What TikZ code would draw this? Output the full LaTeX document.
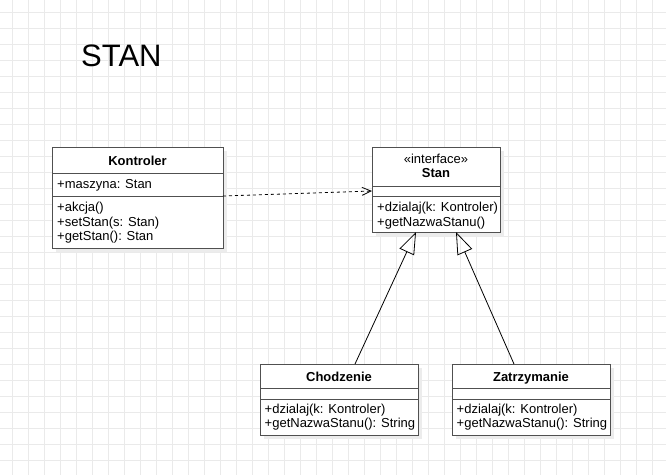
\documentclass[tikz,border=0pt]{standalone}
\usepackage{fontspec}
\setmainfont{Liberation Sans}
\usetikzlibrary{arrows.meta,shadows,calc}
\definecolor{gridc}{RGB}{234,234,234}
\definecolor{boxc}{RGB}{80,80,80}
\definecolor{shadc}{RGB}{236,236,236}
\begin{document}
\begin{tikzpicture}[x=1pt,y=-1pt,
  cls/.style={draw=boxc, line width=1pt, fill=white, inner sep=0pt, outer sep=0pt,
    drop shadow={shadow xshift=3.5pt, shadow yshift=-3.5pt, fill=shadc, opacity=1}},
  sepline/.style={draw=boxc, line width=1pt},
  mem/.style={anchor=base west, inner sep=0pt, font=\fontsize{13}{15}\selectfont},
  ttl/.style={anchor=base, inner sep=0pt, font=\fontsize{13}{15}\selectfont\bfseries},
  stereo/.style={anchor=base, inner sep=0pt, font=\fontsize{13}{15}\selectfont},
  gridline/.style={draw=gridc, line width=0.8pt},
  dep/.style={draw=black, line width=0.8pt, dash pattern=on 3pt off 3pt, -{Straight Barb[length=9pt,width=8pt]}},
  inh/.style={draw=black, line width=0.8pt, -{Triangle[open, length=22pt, width=16pt]}}
]
\useasboundingbox (0,0) rectangle (666,475);
\fill[white] (0,0) rectangle (666,475);
\foreach \gx in {12,28,...,660} {\draw[gridline] (\gx,0) -- (\gx,475);}
\foreach \gy in {12,28,...,475} {\draw[gridline] (0,\gy) -- (666,\gy);}

\node[anchor=base west, inner sep=0pt, font=\fontsize{31}{35}\selectfont] (title) at (81,66) {STAN};

% Kontroler
\node[cls, minimum width=171pt, minimum height=101pt] (kon) at (137.5,197.5) {};
\draw[sepline] ($(kon.north west)+(0,26)$) -- ($(kon.north east)+(0,26)$);
\draw[sepline] ($(kon.north west)+(0,49)$) -- ($(kon.north east)+(0,49)$);
\node[ttl] (konT) at (137.5,165) {Kontroler};
\node[mem] (konA) at (57,188) {+maszyna: Stan};
\node[mem] (konM1) at (57,211.5) {+akcja()};
\node[mem] (konM2) at (57,226) {+setStan(s: Stan)};
\node[mem] (konM3) at (57,240.5) {+getStan(): Stan};

% Stan
\node[cls, minimum width=128pt, minimum height=85pt] (stan) at (436,189.5) {};
\draw[sepline] ($(stan.north west)+(0,39)$) -- ($(stan.north east)+(0,39)$);
\draw[sepline] ($(stan.north west)+(0,49)$) -- ($(stan.north east)+(0,49)$);
\node[stereo] (stanS) at (436,163) {«interface»};
\node[ttl] (stanT) at (436,177.7) {Stan};
\node[mem] (stanM1) at (377,211.5) {+dzialaj(k: Kontroler)};
\node[mem] (stanM2) at (377,226) {+getNazwaStanu()};

% Chodzenie
\node[cls, minimum width=158pt, minimum height=71pt] (cho) at (339,399.5) {};
\draw[sepline] ($(cho.north west)+(0,24)$) -- ($(cho.north east)+(0,24)$);
\draw[sepline] ($(cho.north west)+(0,35)$) -- ($(cho.north east)+(0,35)$);
\node[ttl] (choT) at (339,381.7) {Chodzenie};
\node[mem] (choM1) at (264.5,413) {+dzialaj(k: Kontroler)};
\node[mem] (choM2) at (264.5,427.5) {+getNazwaStanu(): String};

% Zatrzymanie
\node[cls, minimum width=158pt, minimum height=71pt] (zat) at (531,399.5) {};
\draw[sepline] ($(zat.north west)+(0,24)$) -- ($(zat.north east)+(0,24)$);
\draw[sepline] ($(zat.north west)+(0,35)$) -- ($(zat.north east)+(0,35)$);
\node[ttl] (zatT) at (531,381.7) {Zatrzymanie};
\node[mem] (zatM1) at (456.5,413) {+dzialaj(k: Kontroler)};
\node[mem] (zatM2) at (456.5,427.5) {+getNazwaStanu(): String};

% connectors
\draw[dep] ([yshift=1.5pt]kon.east) -- ([yshift=-1.5pt]stan.west);
\draw[inh] ([xshift=16pt]cho.north) -- ([xshift=-20pt]stan.south);
\draw[inh] ([xshift=-17pt]zat.north) -- ([xshift=20pt]stan.south);
\end{tikzpicture}
\end{document}
